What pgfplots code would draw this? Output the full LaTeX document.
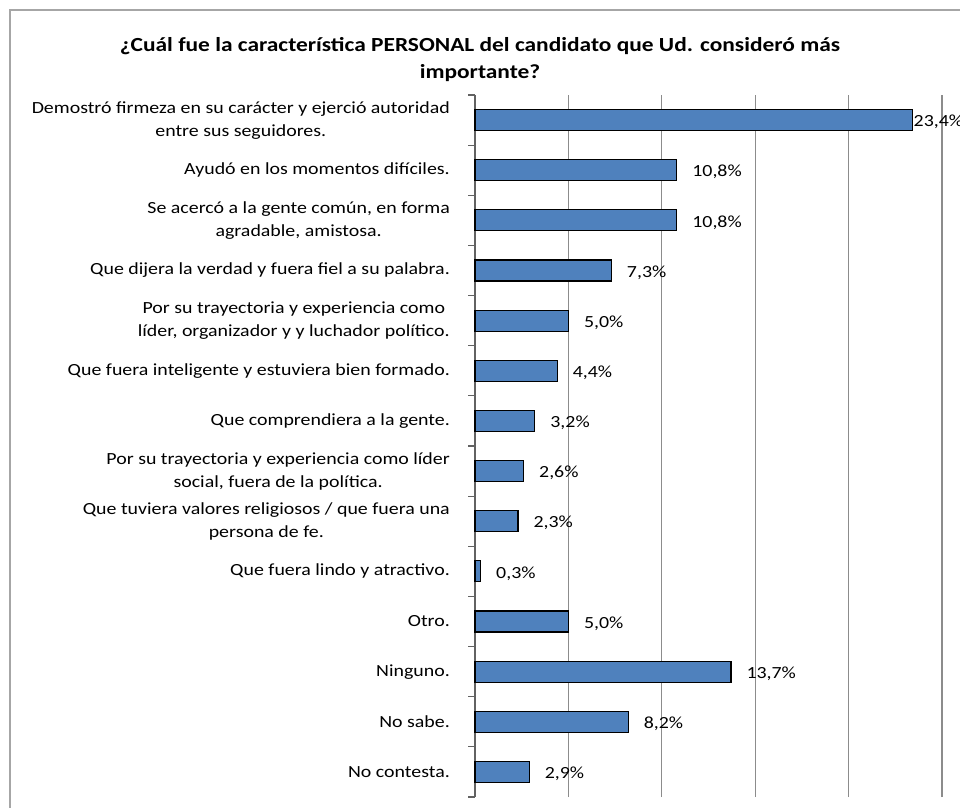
\documentclass[border=0pt]{standalone}
\usepackage{fontspec}
\setmainfont{Carlito}[FakeStretch=1.17]
\usepackage{pgfplots}
\pgfplotsset{compat=1.18}
\usepackage{pgfplotstable}
\definecolor{barblue}{HTML}{4F81BD}
\definecolor{gridgray}{HTML}{8C8C8C}
\definecolor{framegray}{HTML}{A6A6A6}
\pgfplotstableread{
y val
13 23.4
12 10.8
11 10.8
10 7.3
9 5.0
8 4.4
7 3.2
6 2.6
5 2.3
4 0.3
3 5.0
2 13.7
1 8.2
0 2.9
}\datatable
\begin{document}
\begin{tikzpicture}
\draw[framegray, line width=2pt] (9.5pt,-1000pt) -- (9.5pt,-10pt) -- (1000pt,-10pt);
\node[align=center, font=\fontsize{20}{27}\selectfont\bfseries] at (480pt,-60pt)
 {¿Cuál fue la característica PERSONAL del candidato que Ud. consideró más\\importante?};
\begin{axis}[
  at={(475pt,-797pt)}, anchor=south west,
  scale only axis, width=467pt, height=702pt,
  xmin=0, xmax=25, ymin=-0.5, ymax=13.5,
  axis lines*=left,
  x axis line style={draw=none},
  y axis line style={draw=gridgray!70!black, line width=1.2pt},
  xtick={5,10,15,20,25}, xticklabels={},
  xmajorgrids, major x grid style={gridgray, line width=1.2pt},
  major tick length=0pt,
  ytick={0,...,13},
  minor ytick={-0.5,0.5,...,13.5},
  minor tick length=7pt,
  tick align=outside,
  ytick pos=left,
  minor y tick style={gridgray!70!black, line width=1.2pt},
  yticklabels={
    No contesta.,
    No sabe.,
    Ninguno.,
    Otro.,
    Que fuera lindo y atractivo.,
    Que tuviera valores religiosos / que fuera una\\persona de fe.,
    {Por su trayectoria y experiencia como líder\\social, fuera de la política.},
    Que comprendiera a la gente.,
    Que fuera inteligente y estuviera bien formado.,
    {Por su trayectoria y experiencia como\\líder, organizador y y luchador político.},
    Que dijera la verdad y fuera fiel a su palabra.,
    {Se acercó a la gente común,  en forma\\agradable, amistosa.},
    Ayudó en los momentos difíciles.,
    Demostró firmeza en su carácter y ejerció autoridad\\entre sus seguidores.
  },
  yticklabel style={align=center, font=\fontsize{17}{23}\selectfont, inner xsep=0pt, xshift=-25pt},
  xbar, bar width=21pt, bar shift=0pt,
  visualization depends on={x \as \rawx},
  nodes near coords={\pgfmathprintnumber[fixed,fixed zerofill,precision=1,use comma,assume math mode=true]{\pgfplotspointmeta}\%},
  every node near coord/.append style={font=\fontsize{17}{20}\selectfont, anchor=west, inner xsep=0pt, text=black, xshift={\rawx>20 ? 1 : 15}, yshift=-2pt},
  clip=false,
]
\addplot[fill=barblue, draw=black, line width=1.2pt] table[x=val, y=y] {\datatable};
\end{axis}
\pgfresetboundingbox
\useasboundingbox (0,0) rectangle (960pt,-807pt);
\end{tikzpicture}
\end{document}
